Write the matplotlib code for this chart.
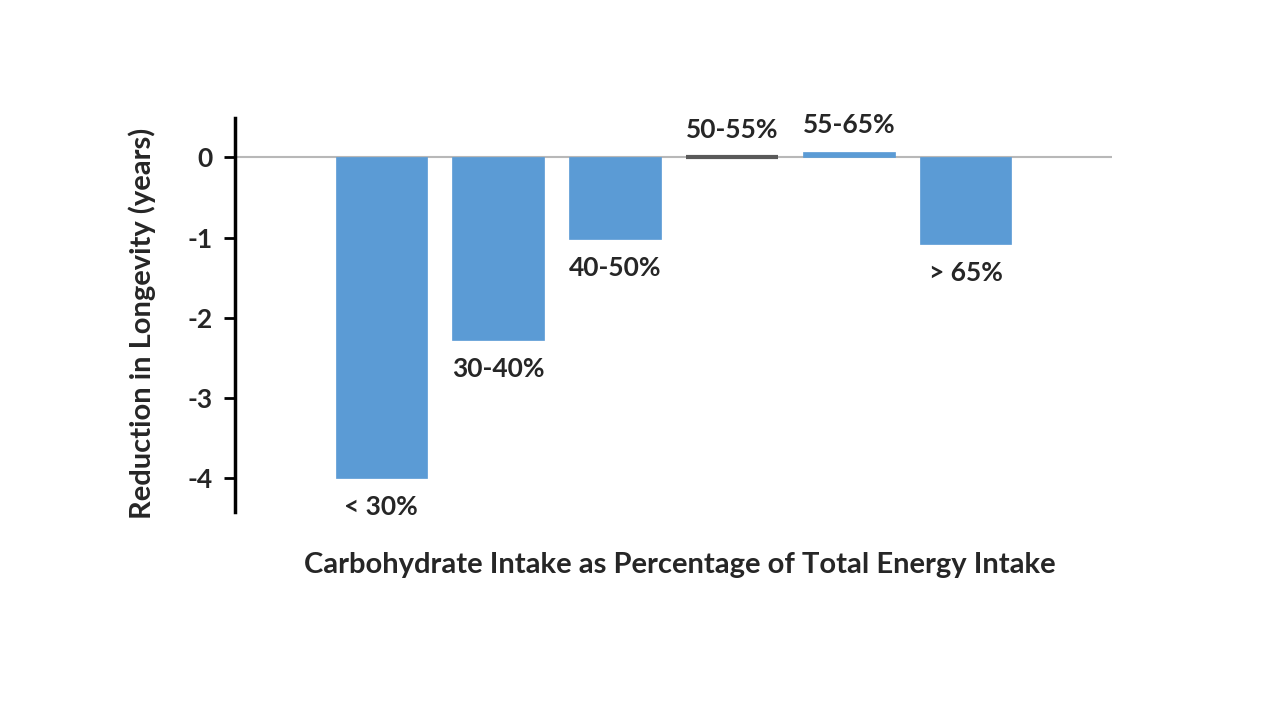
import matplotlib.pyplot as plt

plt.rcParams['font.family'] = ['Lato', 'DejaVu Sans']

# данні з графіку
categories = ['< 30%', '30-40%', '40-50%', '50-55%', '55-65%', '> 65%']
values = [-4.0, -2.28, -1.02, 0.0, 0.07, -1.08]
bar_colors = ['#5B9BD5', '#5B9BD5', '#5B9BD5', '#5a5a5a', '#5B9BD5', '#5B9BD5']
yticks = [0, -1, -2, -3, -4]

fig = plt.figure(figsize=(12.8, 7.2), dpi=100)
ax = fig.add_axes([235/1280, 1 - 512/720, (1112 - 235)/1280, (512 - 118)/720])

x = range(len(categories))
widths = [0.5, 0.5, 0.5, 3, 0.5, 0.5]
ax.bar(x, values, width=0.78, color=bar_colors, edgecolor=bar_colors, linewidth=widths, zorder=3)

# нульова лінія
ax.axhline(0, color='#b8b8b8', linewidth=1.5, zorder=2)

# підписи категорій біля стовпчиків
for xi, v, lab in zip(x, values, categories):
    off = 27 if v >= 0 else -29
    ax.annotate(lab, (xi, v), xytext=(0, off), textcoords='offset pixels',
                ha='center', va='center', fontsize=19, fontweight='bold', color='#262626')

ax.set_xlim(-1.25, 6.25)
ax.set_ylim(-4.42, 0.49)
ax.set_xticks([])
ax.set_yticks(yticks)
ax.set_yticklabels([str(t) for t in yticks], fontsize=19, fontweight='bold', color='#262626')
ax.tick_params(axis='y', direction='out', length=8, width=2, pad=8)

for s in ['top', 'right', 'bottom']:
    ax.spines[s].set_visible(False)
ax.spines['left'].set_linewidth(2.5)

fig.text(142/1280, 1 - 323/720, 'Reduction in Longevity (years)', rotation=90,
         ha='center', va='center', fontsize=21, fontweight='bold', color='#262626')
fig.text(680/1280, 1 - 565/720, 'Carbohydrate Intake as Percentage of Total Energy Intake',
         ha='center', va='center', fontsize=21, fontweight='bold', color='#262626')

fig.savefig('out.png', dpi=100)
